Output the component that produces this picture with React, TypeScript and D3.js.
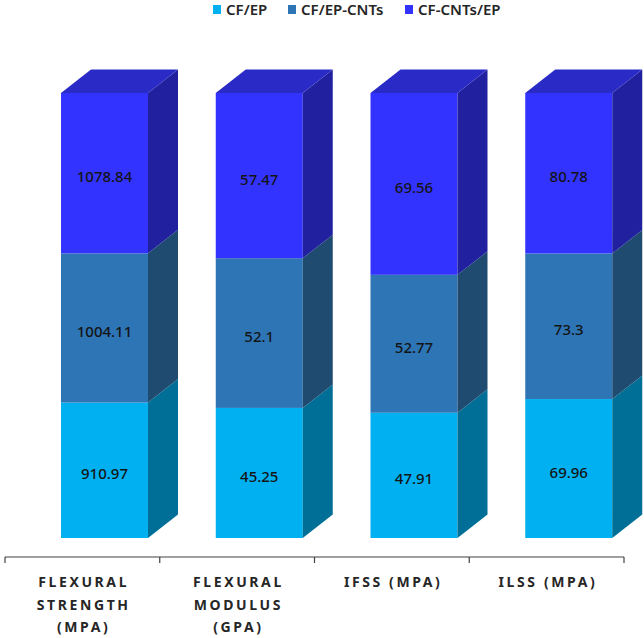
import { useEffect, useRef } from "react";
import * as d3 from "d3";

const categories = ["Flexural Strength (MPa)", "Flexural Modulus (GPa)", "IFSS (MPa)", "ILSS (MPa)"];
const categoryLines = [
  ["FLEXURAL", "STRENGTH", "(MPA)"],
  ["FLEXURAL", "MODULUS", "(GPA)"],
  ["IFSS (MPA)"],
  ["ILSS (MPA)"],
];
const seriesNames = ["CF/EP", "CF/EP-CNTs", "CF-CNTs/EP"];
const cfEp = [910.97, 45.25, 47.91, 69.96];
const cfEpCnts = [1004.11, 52.1, 52.77, 73.3];
const cfCntsEp = [1078.84, 57.47, 69.56, 80.78];

const frontColors = ["#00b0f0", "#2e75b6", "#3333ff"];
const sideColors = ["#006f97", "#1f4b70", "#2121a0"];
const topColor = "#2a2ac6";

export default function App() {
  const svgRef = useRef<SVGSVGElement>(null);

  useEffect(() => {
    document.body.style.margin = "0";
    if (!svgRef.current) return;
    const svg = d3.select(svgRef.current);
    svg.selectAll("*").remove();

    const depthX = 30;
    const depthY = -23.5;
    const barW = 87;
    const barOffset = 56;

    const rows = categories.map((c, i) => ({
      category: c,
      [seriesNames[0]]: cfEp[i],
      [seriesNames[1]]: cfEpCnts[i],
      [seriesNames[2]]: cfCntsEp[i],
    }));

    const stacked = d3
      .stack<any>()
      .keys(seriesNames)
      .offset(d3.stackOffsetExpand)(rows);

    const x = d3.scaleBand().domain(categories).range([5, 624]);
    const y = d3.scaleLinear().domain([0, 1]).range([538, 93]);

    const font = "'Noto Sans', 'Open Sans', sans-serif";

    // bars
    categories.forEach((cat, ci) => {
      const xl = (x(cat) as number) + barOffset;
      const xr = xl + barW;
      const g = svg.append("g");
      stacked.forEach((layer, si) => {
        const [v0, v1] = layer[ci];
        const yb = y(v0);
        const yt = y(v1);
        g.append("rect")
          .attr("x", xl)
          .attr("y", yt)
          .attr("width", barW)
          .attr("height", yb - yt)
          .attr("fill", frontColors[si]);
        g.append("polygon")
          .attr(
            "points",
            [
              [xr, yb],
              [xr + depthX, yb + depthY],
              [xr + depthX, yt + depthY],
              [xr, yt],
            ].join(" ")
          )
          .attr("fill", sideColors[si]);
        if (si === stacked.length - 1) {
          g.append("polygon")
            .attr(
              "points",
              [
                [xl, yt],
                [xl + depthX, yt + depthY],
                [xr + depthX, yt + depthY],
                [xr, yt],
              ].join(" ")
            )
            .attr("fill", topColor);
        }
        const value = [cfEp, cfEpCnts, cfCntsEp][si][ci];
        g.append("text")
          .attr("x", xl + barW / 2)
          .attr("y", (yb + yt) / 2 + 9)
          .attr("text-anchor", "middle")
          .attr("font-family", font)
          .attr("font-size", "15px")
          .attr("font-weight", 500)
          .attr("fill", "#141414")
          .text(String(value));
      });
    });

    // axis
    const axisY = 557;
    svg
      .append("line")
      .attr("x1", 5)
      .attr("x2", 624)
      .attr("y1", axisY)
      .attr("y2", axisY)
      .attr("stroke", "#404040")
      .attr("stroke-width", 1.2);
    const ticks = [...categories.map((c) => x(c) as number), 624];
    svg
      .selectAll(".tick")
      .data(ticks)
      .join("line")
      .attr("x1", (d) => d)
      .attr("x2", (d) => d)
      .attr("y1", axisY)
      .attr("y2", axisY + 6)
      .attr("stroke", "#404040")
      .attr("stroke-width", 1.2);

    categories.forEach((cat, ci) => {
      const cx = (x(cat) as number) + x.bandwidth() / 2;
      categoryLines[ci].forEach((line, li) => {
        svg
          .append("text")
          .attr("x", cx + 1.3)
          .attr("y", 587 + li * 22.5)
          .attr("text-anchor", "middle")
          .attr("font-family", font)
          .attr("font-size", "14px")
          .attr("font-weight", "bold")
          .attr("letter-spacing", "2.6px")
          .attr("fill", "#262626")
          .text(line);
      });
    });

    // legend
    const legendX = [213, 288, 405];
    seriesNames.forEach((name, i) => {
      svg
        .append("rect")
        .attr("x", legendX[i])
        .attr("y", 5)
        .attr("width", 8)
        .attr("height", 9)
        .attr("fill", frontColors[i]);
      svg
        .append("text")
        .attr("x", legendX[i] + 13)
        .attr("y", 15)
        .attr("font-family", font)
        .attr("font-size", "15px")
        .attr("font-weight", 600)
        .attr("fill", "#262626")
        .text(name);
    });
  }, []);

  return <svg ref={svgRef} width={644} height={638} style={{ display: "block" }} />;
}
